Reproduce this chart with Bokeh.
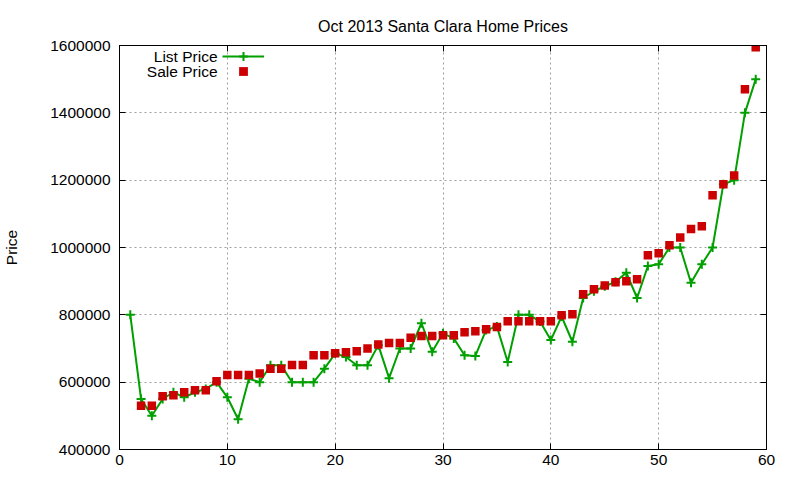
from bokeh.plotting import figure
from bokeh.models import (Range1d, FixedTicker, BasicTickFormatter, LinearAxis,
                          Legend, LegendItem, Label)
from bokeh.embed import file_html
from bokeh.resources import INLINE

# listing index and prices
list_x = list(range(1, 60))
list_price = [800000, 550000, 500000, 550000, 570000, 555000, 570000, 580000, 600000, 555000,
              490000, 610000, 600000, 650000, 650000, 600000, 600000, 600000, 640000, 685000,
              675000, 650000, 650000, 710000, 612000, 700000, 700000, 775000, 690000, 745000,
              730000, 680000, 678000, 755000, 765000, 660000, 800000, 800000, 780000, 725000,
              795000, 720000, 850000, 870000, 885000, 898000, 925000, 850000, 945000, 950000,
              1000000, 1000000, 895000, 950000, 1000000, 1188000, 1200000, 1400000, 1500000]

sale_x = list(range(2, 60))
sale_price = [530000, 530000, 558000, 561000, 570000, 576000, 576000, 603000, 621000, 621000,
              621000, 626000, 640000, 640000, 651000, 651000, 680000, 680000, 686000, 689000,
              692000, 700000, 712000, 716000, 716000, 732000, 737000, 737000, 739000, 739000,
              748000, 751000, 757000, 764000, 781000, 781000, 781000, 781000, 781000, 799000,
              802000, 861000, 876000, 887000, 897000, 900000, 906000, 977000, 983000, 1007000,
              1030000, 1055000, 1063000, 1155000, 1188000, 1214000, 1470000, 1595000]

x_ticks = [0, 10, 20, 30, 40, 50, 60]
y_ticks = [400000, 600000, 800000, 1000000, 1200000, 1400000, 1600000]

FONT = "Liberation Sans"
GREEN = "#00a000"
RED = "#cc0000"

p = figure(width=792, height=478, title="Oct 2013 Santa Clara Home Prices",
           x_range=Range1d(0, 60), y_range=Range1d(400000, 1600000),
           output_backend="svg", toolbar_location=None,
           min_border_left=119, min_border_right=26, min_border_top=45, min_border_bottom=29)

p.title.align = "center"
p.title.vertical_align = "middle"
p.title.text_font = FONT
p.title.text_font_size = "16px"
p.title.text_font_style = "normal"
p.title.text_color = "black"
p.title.standoff = 20

p.outline_line_color = "black"
p.outline_line_width = 1

# mirrored tick marks (gnuplot style) on top and right
p.add_layout(LinearAxis(), "right")
p.add_layout(LinearAxis(), "above")

for ax in p.axis:
    ax.major_tick_in = 6
    ax.major_tick_out = 0
    ax.minor_tick_in = 0
    ax.minor_tick_out = 0
    ax.axis_line_color = "black"
    ax.major_tick_line_color = "black"
    ax.major_label_text_font = FONT
    ax.major_label_text_font_size = "15.5px"
    ax.major_label_text_color = "black"

for ax in p.xaxis:
    ax.ticker = FixedTicker(ticks=x_ticks)
for ax in p.yaxis:
    ax.ticker = FixedTicker(ticks=y_ticks)
    ax.formatter = BasicTickFormatter(use_scientific=False)

p.above[-1].major_label_text_color = None
p.right[-1].major_label_text_color = None

p.xaxis[0].major_label_standoff = 10
p.yaxis[0].major_label_standoff = 9
p.yaxis[0].axis_label = "Price"
p.yaxis[0].axis_label_text_font = FONT
p.yaxis[0].axis_label_text_font_size = "15.5px"
p.yaxis[0].axis_label_text_font_style = "normal"
p.yaxis[0].axis_label_text_color = "black"
p.yaxis[0].axis_label_standoff = 27

p.grid.grid_line_color = "#a0a0a0"
p.grid.grid_line_dash = "2 3"
p.grid.grid_line_width = 1
p.xgrid.ticker = FixedTicker(ticks=x_ticks)
p.ygrid.ticker = FixedTicker(ticks=y_ticks)

list_line = p.line(list_x, list_price, line_color=GREEN, line_width=2)
list_pts = p.scatter(list_x, list_price, marker="cross", size=9, line_color=GREEN, line_width=2)
sale_pts = p.scatter(sale_x, sale_price, marker="square", size=8.5, fill_color=RED, line_color=None)

# gnuplot-style key: text right-aligned, sample on the right
key_rows = [([list_line, list_pts], "List Price", 382, 393),
            ([sale_pts], "Sale Price", 367, 378)]
for rends, txt, ly, ty in key_rows:
    p.add_layout(Legend(items=[LegendItem(label="", renderers=rends)],
                        location=(103, ly), glyph_width=42, glyph_height=22,
                        label_width=0, label_standoff=0, padding=0, margin=0,
                        border_line_color=None, background_fill_alpha=0))
    p.add_layout(Label(x=98, y=ty, x_units="screen", y_units="screen", text=txt,
                       text_align="right", text_baseline="middle",
                       text_font=FONT, text_font_size="15.5px", text_color="black"))

open("out.html", "w").write(file_html(p, INLINE))
